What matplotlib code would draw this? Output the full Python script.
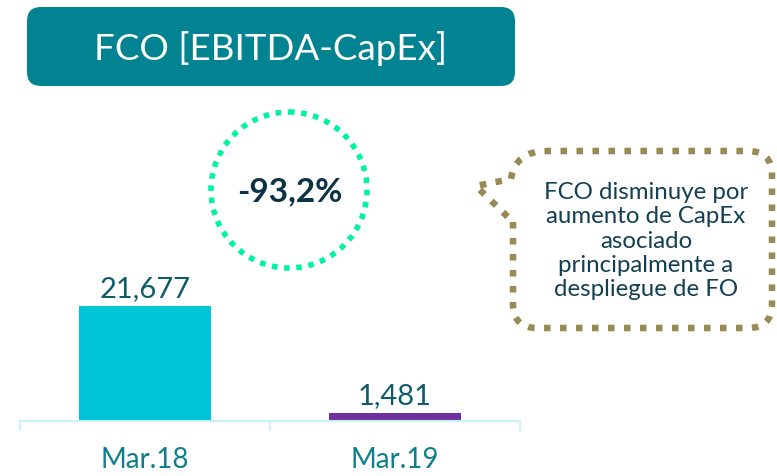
import matplotlib
matplotlib.use("Agg")
import matplotlib.pyplot as plt
from matplotlib.patches import FancyBboxPatch, Circle, PathPatch
from matplotlib.path import Path

categories = ["Mar.18", "Mar.19"]
values = [21677, 1481]
value_labels = ["21,677", "1,481"]
bar_colors = ["#00C5D7", "#7030A0"]
title = "FCO [EBITDA-CapEx]"
change_label = "-93,2%"
note = "FCO disminuye por\naumento de CapEx\nasociado\nprincipalmente a\ndespliegue de FO"

plt.rcParams['font.family'] = ['Lato', 'DejaVu Sans']

W, H = 777, 476
fig = plt.figure(figsize=(W / 100, H / 100), dpi=100)

# main bar axes: x from 20px to 520px, baseline at 421px
ax_h = 300
ax = fig.add_axes([20 / W, (H - 421) / H, 500 / W, ax_h / H])
ax.set_xlim(-0.5, 1.5)
ax.set_ylim(0, values[0] * ax_h / 115)
x = range(len(categories))
bars = ax.bar(x, values, width=0.53, color=bar_colors, zorder=2)
for xi, v, lab in zip(x, values, value_labels):
    ax.annotate(lab, (xi, v), xytext=(0, 4), textcoords="offset pixels",
                ha="center", va="bottom", fontsize=21, color="#0E5B6C")
for s in ["top", "right", "left"]:
    ax.spines[s].set_visible(False)
ax.spines["bottom"].set_color("#C9F1F6")
ax.spines["bottom"].set_linewidth(1.5)
ax.set_yticks([])
ax.set_xticks(list(x))
ax.set_xticklabels(categories, fontsize=20, color="#0F7F8E")
ax.tick_params(axis="x", which="major", length=0, pad=19)
ax.set_xticks([-0.5, 0.5, 1.5], minor=True)
ax.tick_params(axis="x", which="minor", length=7, width=1.5, color="#C9F1F6")

# overlay in pixel coords
ov = fig.add_axes([0, 0, 1, 1])
ov.set_xlim(0, W)
ov.set_ylim(H, 0)
ov.axis("off")
ov.patch.set_alpha(0)

# title box
tb = FancyBboxPatch((27, 7), 488, 79, boxstyle="round,pad=0,rounding_size=14",
                    facecolor="#028391", edgecolor="none")
ov.add_patch(tb)
ov.text(271, 48, title, ha="center", va="center", fontsize=26.5, color="white")

# dotted circle
circ = Circle((289, 190), 78, fill=False, edgecolor="#00F2A2", linewidth=4,
              linestyle=(0, (1, 1.2)))
circ.set_capstyle("butt")
ov.add_patch(circ)
ov.text(290, 192, change_label, ha="center", va="center", fontsize=24,
        fontweight="bold", color="#0C3246")

# callout
L, R, T, B, r = 513, 772, 151, 328, 24
verts = [(513, 222), (L, B - r), (L, B), (L + r, B), (R - r, B), (R, B), (R, B - r),
         (R, T + r), (R, T), (R - r, T), (L + r + 10, T), (L + 2, T), (511, 179),
         (476, 186), (513, 222)]
codes = [Path.MOVETO, Path.LINETO, Path.CURVE3, Path.CURVE3, Path.LINETO, Path.CURVE3,
         Path.CURVE3, Path.LINETO, Path.CURVE3, Path.CURVE3, Path.LINETO, Path.CURVE3,
         Path.CURVE3, Path.LINETO, Path.LINETO]
cp = PathPatch(Path(verts, codes), fill=False, edgecolor="#978A55", linewidth=4.7,
               linestyle=(0, (1, 1.45)))
cp.set_capstyle("butt")
ov.add_patch(cp)
ov.text(646, 241, note, ha="center", va="center", fontsize=17.3, color="#123F52",
        linespacing=1.2)

fig.savefig("out.png", dpi=100)
